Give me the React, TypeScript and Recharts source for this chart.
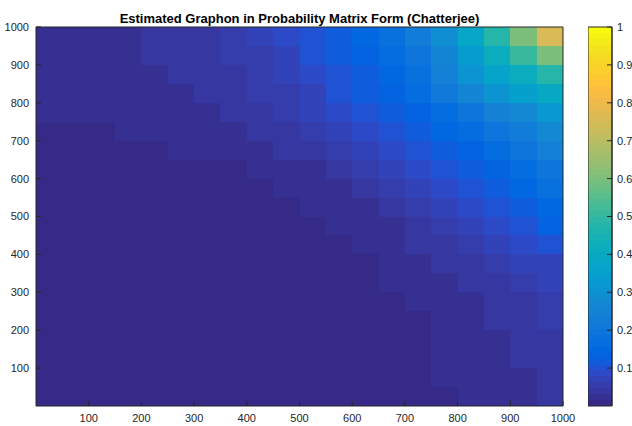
import { ComposedChart, XAxis, YAxis, ReferenceArea } from 'recharts';

// cell centres of the estimated probability matrix (node index)
const colCenters = [25, 75, 125, 175, 225, 275, 325, 375, 425, 475, 525, 575, 625, 675, 725, 775, 825, 875, 925, 975];
const rowCenters = [975, 925, 875, 825, 775, 725, 675, 625, 575, 525, 475, 425, 375, 325, 275, 225, 175, 125, 75, 25];

// probabilities, one row per rowCenters entry (top to bottom)
const probRows: number[][] = [
  [0.026, 0.026, 0.028, 0.031, 0.034, 0.038, 0.045, 0.054, 0.069, 0.09, 0.108, 0.123, 0.145, 0.175, 0.22, 0.29, 0.39, 0.48, 0.6, 0.75],
  [0.023, 0.024, 0.026, 0.029, 0.032, 0.035, 0.04, 0.048, 0.06, 0.077, 0.094, 0.111, 0.133, 0.158, 0.195, 0.26, 0.34, 0.41, 0.5, 0.6],
  [0.021, 0.022, 0.023, 0.026, 0.029, 0.032, 0.037, 0.043, 0.054, 0.068, 0.084, 0.101, 0.123, 0.148, 0.183, 0.24, 0.31, 0.36, 0.41, 0.47],
  [0.018, 0.019, 0.021, 0.023, 0.026, 0.029, 0.033, 0.039, 0.048, 0.059, 0.076, 0.095, 0.114, 0.136, 0.165, 0.21, 0.26, 0.3, 0.35, 0.4],
  [0.016, 0.017, 0.018, 0.02, 0.022, 0.025, 0.029, 0.034, 0.042, 0.052, 0.066, 0.084, 0.1, 0.118, 0.14, 0.168, 0.2, 0.235, 0.275, 0.325],
  [0.013, 0.014, 0.015, 0.016, 0.018, 0.02, 0.023, 0.028, 0.034, 0.041, 0.053, 0.07, 0.086, 0.102, 0.12, 0.141, 0.165, 0.19, 0.225, 0.275],
  [0.011, 0.012, 0.012, 0.014, 0.015, 0.016, 0.018, 0.021, 0.026, 0.032, 0.042, 0.055, 0.069, 0.083, 0.099, 0.118, 0.138, 0.16, 0.193, 0.238],
  [0.01, 0.01, 0.01, 0.011, 0.011, 0.012, 0.013, 0.015, 0.018, 0.023, 0.031, 0.042, 0.053, 0.065, 0.08, 0.098, 0.117, 0.139, 0.168, 0.203],
  [0.009, 0.009, 0.009, 0.01, 0.01, 0.01, 0.011, 0.012, 0.014, 0.017, 0.023, 0.031, 0.04, 0.051, 0.065, 0.082, 0.1, 0.12, 0.145, 0.175],
  [0.009, 0.009, 0.009, 0.009, 0.009, 0.009, 0.01, 0.011, 0.013, 0.015, 0.018, 0.023, 0.031, 0.04, 0.053, 0.068, 0.084, 0.101, 0.123, 0.148],
  [0.009, 0.009, 0.009, 0.009, 0.009, 0.009, 0.01, 0.01, 0.011, 0.012, 0.014, 0.018, 0.024, 0.031, 0.041, 0.054, 0.068, 0.083, 0.103, 0.128],
  [0.009, 0.009, 0.009, 0.009, 0.009, 0.009, 0.009, 0.009, 0.009, 0.01, 0.012, 0.014, 0.019, 0.025, 0.032, 0.041, 0.051, 0.064, 0.08, 0.1],
  [0.009, 0.009, 0.009, 0.009, 0.009, 0.009, 0.009, 0.009, 0.009, 0.009, 0.011, 0.012, 0.015, 0.02, 0.026, 0.033, 0.041, 0.05, 0.063, 0.078],
  [0.009, 0.009, 0.009, 0.009, 0.009, 0.009, 0.009, 0.009, 0.009, 0.009, 0.01, 0.011, 0.013, 0.016, 0.021, 0.027, 0.034, 0.041, 0.051, 0.064],
  [0.009, 0.009, 0.009, 0.009, 0.009, 0.009, 0.009, 0.009, 0.009, 0.009, 0.009, 0.009, 0.011, 0.014, 0.018, 0.023, 0.029, 0.036, 0.045, 0.055],
  [0.009, 0.009, 0.009, 0.009, 0.009, 0.009, 0.009, 0.009, 0.009, 0.009, 0.009, 0.009, 0.011, 0.012, 0.015, 0.02, 0.025, 0.032, 0.039, 0.048],
  [0.009, 0.009, 0.009, 0.009, 0.009, 0.009, 0.009, 0.009, 0.009, 0.009, 0.009, 0.009, 0.01, 0.012, 0.014, 0.018, 0.023, 0.029, 0.036, 0.043],
  [0.009, 0.009, 0.009, 0.009, 0.009, 0.009, 0.009, 0.009, 0.009, 0.009, 0.009, 0.009, 0.01, 0.011, 0.013, 0.016, 0.021, 0.027, 0.033, 0.039],
  [0.009, 0.009, 0.009, 0.009, 0.009, 0.009, 0.009, 0.009, 0.009, 0.009, 0.009, 0.009, 0.01, 0.011, 0.013, 0.016, 0.02, 0.025, 0.031, 0.036],
  [0.009, 0.009, 0.009, 0.009, 0.009, 0.009, 0.009, 0.009, 0.009, 0.009, 0.009, 0.009, 0.01, 0.011, 0.012, 0.015, 0.019, 0.024, 0.028, 0.033],
];

const axisTicks = [100, 200, 300, 400, 500, 600, 700, 800, 900, 1000];
const colorbarTicks = [0.1, 0.2, 0.3, 0.4, 0.5, 0.6, 0.7, 0.8, 0.9, 1];

// MATLAB parula, 64 levels
const parula = [
  '#352A87', '#363093', '#3637A0', '#353DAD', '#3243BA', '#2C4AC7', '#2053D4', '#0F5CDD',
  '#0363E1', '#0268E1', '#046DE0', '#0871DE', '#0D75DC', '#1079DA', '#127DD8', '#1481D6',
  '#1485D4', '#1389D3', '#108ED2', '#0C93D2', '#0998D1', '#079CCF', '#06A0CD', '#06A4CA',
  '#06A7C6', '#07A9C2', '#0AACBE', '#0FAEB9', '#15B1B4', '#1DB3AF', '#25B5A9', '#2EB7A4',
  '#38B99E', '#42BB98', '#4DBC92', '#59BD8C', '#65BE86', '#71BF80', '#7CBF7B', '#87BF77',
  '#92BF73', '#9CBF6F', '#A5BE6B', '#AEBE67', '#B7BD64', '#C0BC60', '#C8BC5D', '#D1BB59',
  '#D9BA56', '#E1B952', '#E9B94E', '#F1B94A', '#F8BB44', '#FDBE3D', '#FFC337', '#FEC832',
  '#FCCE2E', '#FAD32A', '#F7D826', '#F5DE21', '#F5E41D', '#F5EB18', '#F6F313', '#F9FB0E',
];

const AXIS = '#262626';
const FONT = '"Liberation Sans", Arial, Helvetica, sans-serif';

const colorFor = (v: number) =>
  parula[Math.min(parula.length - 1, Math.max(0, Math.floor(v * parula.length)))];

const half = (colCenters[1] - colCenters[0]) / 2;

const cells = rowCenters.flatMap((y, r) =>
  colCenters.map((x, c) => ({ x, y, p: probRows[r][c] })),
);

const bands = parula.map((color, i) => ({
  lo: i / parula.length,
  hi: (i + 1) / parula.length,
  color,
}));

// solid tile, snapped to whole pixels so neighbours meet without seams
const Tile = (props: any) => {
  const { x, y, width, height, fill } = props;
  return (
    <rect
      x={Math.min(x, x + width)}
      y={Math.min(y, y + height)}
      width={Math.abs(width)}
      height={Math.abs(height)}
      fill={fill}
      shapeRendering="crispEdges"
    />
  );
};

// tick label in plain dark grey
const TickText = (props: any) => {
  const { x, y, payload, textAnchor, verticalAnchor } = props;
  const dy = verticalAnchor === 'start' ? '0.71em' : '0.355em';
  return (
    <text
      x={x}
      y={y}
      dy={dy}
      textAnchor={textAnchor}
      fill={AXIS}
      fontSize={11}
      fontFamily={FONT}
    >
      {payload.value}
    </text>
  );
};

export default function App() {
  return (
    <div
      style={{
        position: 'absolute',
        left: 0,
        top: 0,
        width: 632,
        height: 426,
        background: '#fff',
        overflow: 'hidden',
        fontFamily: FONT,
      }}
    >
      <div
        style={{
          position: 'absolute',
          left: 36,
          width: 527,
          top: 11,
          lineHeight: '15px',
          fontSize: 13,
          fontWeight: 'bold',
          textAlign: 'center',
          color: '#000',
        }}
      >
        Estimated Graphon in Probability Matrix Form (Chatterjee)
      </div>

      <div style={{ position: 'absolute', left: 0, top: 0 }}>
        <ComposedChart
          width={632}
          height={426}
          data={cells}
          margin={{ top: 26, right: 68, bottom: 0, left: 0 }}
        >
          {cells.map((cell, i) => (
            <ReferenceArea
              key={i}
              x1={cell.x - half}
              x2={cell.x + half}
              y1={cell.y - half}
              y2={cell.y + half}
              fill={colorFor(cell.p)}
              fillOpacity={1}
              ifOverflow="visible"
              shape={Tile}
            />
          ))}
          <XAxis
            type="number"
            dataKey="x"
            domain={[0, 1000]}
            allowDataOverflow
            ticks={axisTicks}
            height={20}
            tickSize={-5}
            tickMargin={13}
            tick={<TickText />}
            stroke={AXIS}
          />
          <XAxis
            xAxisId="top"
            orientation="top"
            type="number"
            dataKey="x"
            domain={[0, 1000]}
            allowDataOverflow
            ticks={axisTicks}
            height={1}
            tickSize={-5}
            tick={false}
            stroke={AXIS}
          />
          <YAxis
            type="number"
            dataKey="y"
            domain={[0, 1000]}
            allowDataOverflow
            ticks={axisTicks}
            width={36}
            tickSize={-5}
            tickMargin={12}
            tick={<TickText />}
            stroke={AXIS}
          />
          <YAxis
            yAxisId="right"
            orientation="right"
            type="number"
            dataKey="y"
            domain={[0, 1000]}
            allowDataOverflow
            ticks={axisTicks}
            width={1}
            tickSize={-5}
            tick={false}
            stroke={AXIS}
          />
        </ComposedChart>
      </div>

      <div style={{ position: 'absolute', left: 588, top: 0 }}>
        <ComposedChart
          width={44}
          height={426}
          data={bands}
          margin={{ top: 27, right: 0, bottom: 20, left: 0 }}
        >
          {bands.map((b, i) => (
            <ReferenceArea
              key={i}
              x1={0}
              x2={1}
              y1={b.lo}
              y2={b.hi}
              fill={b.color}
              fillOpacity={1}
              ifOverflow="visible"
              shape={Tile}
            />
          ))}
          <ReferenceArea
            x1={0}
            x2={1}
            y1={0}
            y2={1}
            fill="none"
            stroke={AXIS}
            strokeWidth={1}
            ifOverflow="visible"
          />
          <XAxis type="number" dataKey="lo" domain={[0, 1]} hide />
          <YAxis
            orientation="right"
            type="number"
            dataKey="hi"
            domain={[0, 1]}
            allowDataOverflow
            ticks={colorbarTicks}
            width={20}
            tickSize={-5}
            tickMargin={10}
            tick={<TickText />}
            stroke={AXIS}
          />
        </ComposedChart>
      </div>
    </div>
  );
}
